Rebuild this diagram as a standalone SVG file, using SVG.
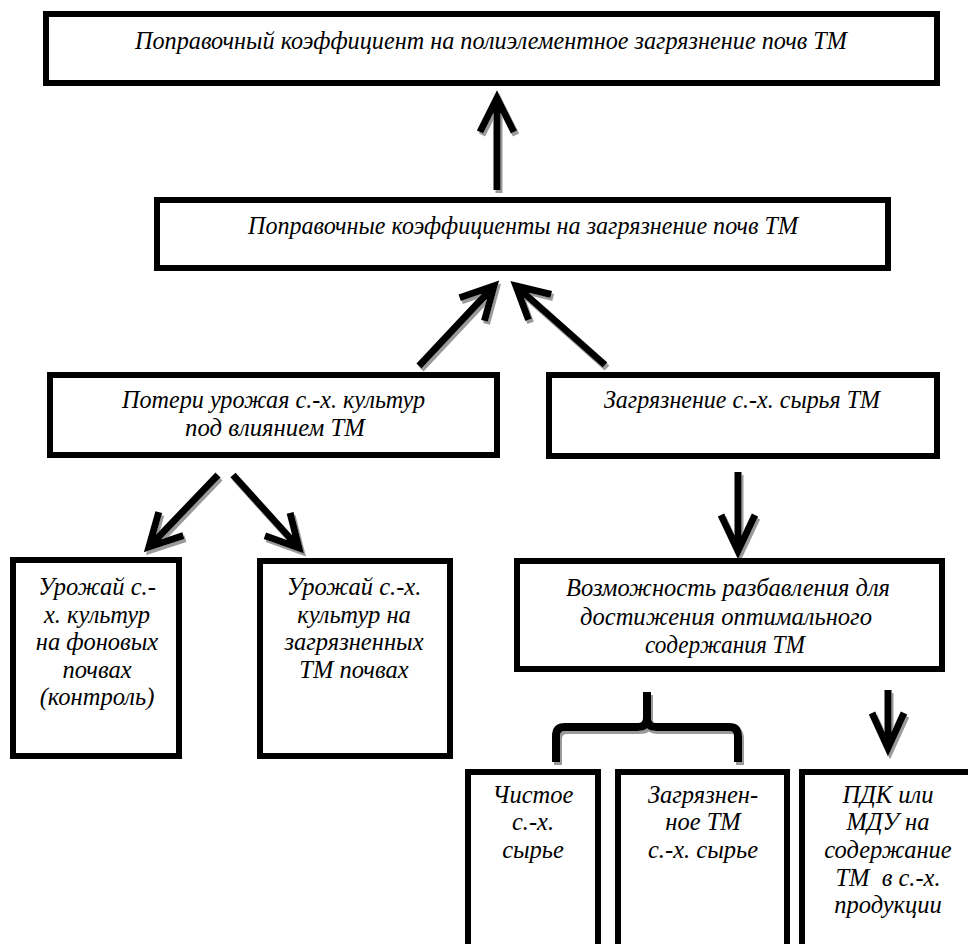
<svg xmlns="http://www.w3.org/2000/svg" width="968" height="944" viewBox="0 0 968 944">
<style>
.box{fill:#fff;stroke:#000;stroke-width:6}
text{font-family:'Liberation Serif','Times New Roman',serif;font-style:italic;fill:#000;text-anchor:middle}
.t1{font-size:25px}
.t2{font-size:24.5px}
.arr{fill:none;stroke:#000;stroke-width:7;stroke-linejoin:miter;stroke-miterlimit:10}
.br{fill:none;stroke:#000;stroke-width:8;stroke-linecap:butt}
</style>
<defs>
<filter id="sh" x="-20%" y="-20%" width="140%" height="140%">
<feDropShadow dx="2" dy="3" stdDeviation="0.6" flood-color="#9a9a9a" flood-opacity="1"/>
</filter>
</defs>
<rect width="968" height="944" fill="#fff"/>

<g id="connectors" filter="url(#sh)">
<path class="arr" d="M497,190 V98 M480,132 L497,98 L514,132"/>
<path class="arr" d="M419,366 L494,286 M459.7,297.7 L494,286 L484.5,320.9"/>
<path class="arr" d="M605,365 L516,286 M551.2,294.5 L516,286 L528.6,319.9"/>
<path class="arr" d="M218,475 L149,547 M183.4,535.7 L149,547 L158.8,512.1"/>
<path class="arr" d="M233,475 L299,548 M290.1,512.9 L299,548 L264.9,535.7"/>
<path class="arr" d="M738,472 V551 M721,515 L738,551 L755,515"/>
<path class="arr" d="M888,690 V748 M872,713 L888,748 L904,713"/>
<path class="br" d="M556,762 V736 Q556,727 565,727 H638 Q647,727 647,718 V692 M647,718 Q647,727 656,727 H729 Q738,727 738,736 V762"/>
</g>

<g id="n-top">
<rect class="box" x="46" y="14" width="891" height="69"/>
<text class="t1" x="491" y="49" textLength="712" lengthAdjust="spacingAndGlyphs">Поправочный коэффициент на полиэлементное загрязнение почв ТМ</text>
</g>
<g id="n-coef">
<rect class="box" x="157" y="200" width="731" height="68"/>
<text class="t1" x="523" y="234" textLength="550" lengthAdjust="spacingAndGlyphs">Поправочные коэффициенты на загрязнение почв ТМ</text>
</g>
<g id="n-loss">
<rect class="box" x="50" y="375" width="447" height="80"/>
<text class="t1" x="273.5" y="408" textLength="303" lengthAdjust="spacingAndGlyphs">Потери урожая с.-х. культур</text>
<text class="t1" x="275" y="436" textLength="180" lengthAdjust="spacingAndGlyphs">под влиянием ТМ</text>
</g>
<g id="n-raw">
<rect class="box" x="549" y="375" width="388" height="81"/>
<text class="t1" x="742" y="408" textLength="276" lengthAdjust="spacingAndGlyphs">Загрязнение с.-х. сырья ТМ</text>
</g>
<g id="n-dilute">
<rect class="box" x="517" y="561" width="425" height="108"/>
<text class="t1" x="728" y="596" textLength="324" lengthAdjust="spacingAndGlyphs">Возможность разбавления для</text>
<text class="t1" x="726" y="625" textLength="292" lengthAdjust="spacingAndGlyphs">достижения оптимального</text>
<text class="t1" x="725" y="653" textLength="160" lengthAdjust="spacingAndGlyphs">содержания ТМ</text>
</g>
<g id="n-yield-bg">
<rect class="box" x="13" y="560" width="166" height="196"/>
<text class="t2" x="97" y="595">Урожай с.-</text>
<text class="t2" x="97" y="623">х. культур</text>
<text class="t2" x="97" y="650">на фоновых</text>
<text class="t2" x="97" y="678">почвах</text>
<text class="t2" x="97" y="705">(контроль)</text>
</g>
<g id="n-yield-pol">
<rect class="box" x="260" y="561" width="190" height="195"/>
<text class="t2" x="354" y="595">Урожай с.-х.</text>
<text class="t2" x="354" y="623">культур на</text>
<text class="t2" x="354" y="650">загрязненных</text>
<text class="t2" x="354" y="678">ТМ почвах</text>
</g>
<g id="n-clean">
<rect class="box" x="468" y="772" width="130" height="200"/>
<text class="t2" x="533" y="803">Чистое</text>
<text class="t2" x="533" y="830">с.-х.</text>
<text class="t2" x="533" y="858">сырье</text>
</g>
<g id="n-dirty">
<rect class="box" x="618" y="772" width="169" height="200"/>
<text class="t2" x="703" y="803">Загрязнен-</text>
<text class="t2" x="703" y="830">ное ТМ</text>
<text class="t2" x="703" y="858">с.-х. сырье</text>
</g>
<g id="n-mpc">
<rect class="box" x="802" y="772" width="200" height="200"/>
<text class="t2" x="888" y="803">ПДК или</text>
<text class="t2" x="888" y="830">МДУ на</text>
<text class="t2" x="888" y="858">содержание</text>
<text class="t2" x="888" y="886" xml:space="preserve">ТМ  в с.-х.</text>
<text class="t2" x="888" y="913">продукции</text>
</g>
</svg>
